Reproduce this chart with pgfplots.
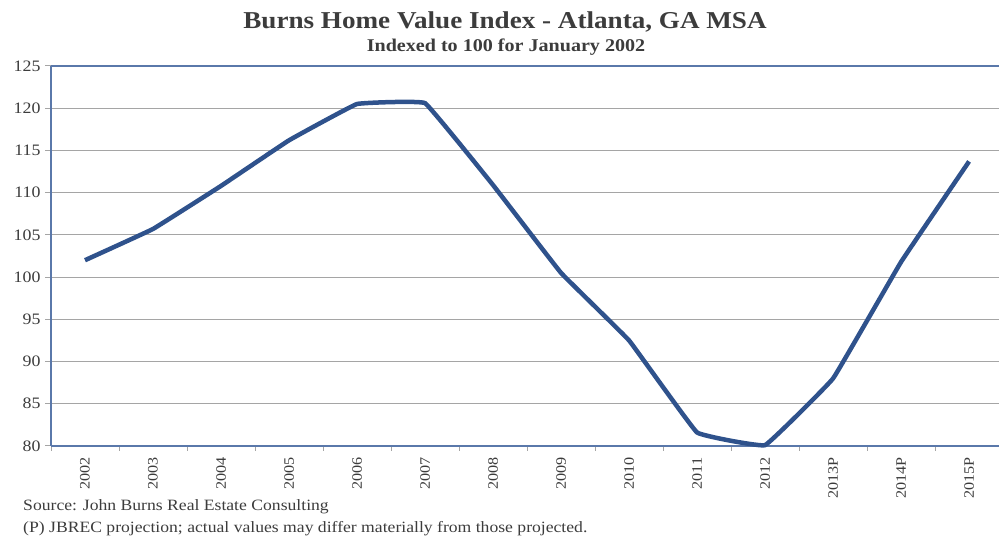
\documentclass[border=0pt]{standalone}
\usepackage{pgfplots}
\pgfplotsset{compat=1.18}
\usepackage{fontspec}
\setmainfont[FakeStretch=1.12]{Liberation Serif}
\definecolor{lineblue}{RGB}{47,82,140}
\definecolor{axblue}{RGB}{90,120,170}
\definecolor{gridgray}{RGB}{165,165,165}
\definecolor{txt}{RGB}{60,60,60}
\begin{document}
\begin{tikzpicture}[x=1bp,y=1bp]
\path[use as bounding box] (0,0) rectangle (999,543);
\begin{axis}[
  at={(51bp,97bp)}, anchor=south west,
  scale only axis, width=948bp, height=380bp,
  xmin=-0.5, xmax=13.44, ymin=80, ymax=125,
  ytick={80,85,...,125},
  xtick={0,...,13},
  xticklabels={2002,2003,2004,2005,2006,2007,2008,2009,2010,2011,2012,2013P,2014P,2015P},
  minor xtick={-0.5,0.5,...,12.5},
  axis x line=box, axis y line=left,
  axis line style={-,axblue,line width=1.5bp},
  tick pos=left,
  tick align=outside,
  x tick style={draw=none},
  minor x tick style={draw=gridgray,line width=1bp},
  minor tick length=5bp,
  y tick style={draw=gridgray,line width=1bp},
  major tick length=6bp,
  ymajorgrids, major grid style={gridgray,line width=1.2bp},
  xticklabel style={rotate=90,anchor=east,font=\fontsize{14.5}{16}\selectfont,text=txt,xshift=-2bp},
  yticklabel style={font=\fontsize{16}{18}\selectfont,text=txt,xshift=-1bp},
  /pgf/number format/assume math mode=true,
  clip=false,
]
\addplot[lineblue,line width=4.5bp,smooth,tension=0.12] coordinates {
(0,102.0)(1,105.7)(2,110.8)(3,116.2)(4,120.5)(5,120.6)(6,110.9)(7,100.5)(8,92.5)(9,81.6)(10,80.1)(11,88.0)(12,101.8)(13,113.7)
};
\end{axis}
\node[font=\bfseries\fontsize{24.3}{28}\selectfont,text=txt] at (505,521) {Burns Home Value Index - Atlanta, GA MSA};
\node[font=\bfseries\fontsize{18}{20}\selectfont,text=txt] at (506,496) {Indexed to 100 for January 2002};
\node[anchor=west,font=\fontsize{15.8}{18}\selectfont,text=txt,inner sep=0] at (23,36) {Source: John Burns Real Estate Consulting};
\node[anchor=west,font=\fontsize{15.8}{18}\selectfont,text=txt,inner sep=0] at (23,14) {(P) JBREC projection; actual values may differ materially from those projected.};
\end{tikzpicture}
\end{document}
